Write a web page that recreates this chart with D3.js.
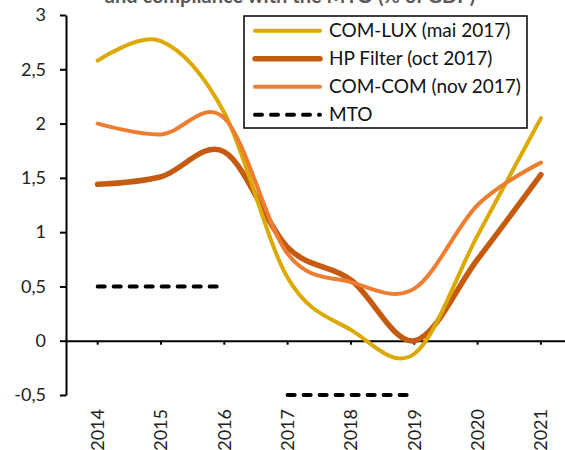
<!DOCTYPE html>
<html>
<head>
<meta charset="utf-8">
<script src="https://cdn.jsdelivr.net/npm/d3@7"></script>
<style>
  html, body { margin: 0; padding: 0; background: #fff; }
  svg { display: block; }
  text { font-family: Lato, "Open Sans", sans-serif; }
</style>
</head>
<body>
<svg id="chart" width="565" height="450"></svg>
<script>
// ---- data ----
const years = ["2014", "2015", "2016", "2017", "2018", "2019", "2020", "2021"];
const comLux = [2.58, 2.76, 2.10, 0.58, 0.10, -0.12, 0.97, 2.05];
const hpFilter = [1.44, 1.51, 1.74, 0.86, 0.56, 0.00, 0.75, 1.53];
const comCom = [2.00, 1.90, 2.05, 0.80, 0.54, 0.48, 1.25, 1.64];
const mto = [0.5, 0.5, 0.5, -0.5, -0.5, -0.5, null, null];
const yTicks = [-0.5, 0, 0.5, 1, 1.5, 2, 2.5, 3];
const seriesNames = ["COM-LUX (mai 2017)", "HP Filter (oct 2017)", "COM-COM (nov 2017)", "MTO"];
const titleText = "and compliance with the MTO (% of GDP)";

// ---- styles ----
const colors = { lux: "#DBA900", hp: "#C55A11", com: "#ED7D31", mto: "#000000" };
const fontSize = 17;

const svg = d3.select("#chart");

const x = d3.scaleBand().domain(years).range([66, 572.6]).padding(0);
const xc = d => x(d) + x.bandwidth() / 2;
const y = d3.scaleLinear().domain([-0.5, 3]).range([395, 15]);

const fmt = v => String(v).replace(".", ",");

// title (partially cut off at top, as in the reference)
svg.append("text")
  .attr("x", 290).attr("y", 3)
  .attr("text-anchor", "middle")
  .attr("font-weight", "bold")
  .attr("font-size", 20)
  .attr("fill", "#595959")
  .text(titleText);

// y axis
const yAxis = svg.append("g")
  .attr("transform", "translate(66,0)")
  .call(d3.axisLeft(y).tickValues(yTicks).tickFormat(fmt).tickSize(6).tickSizeOuter(0).tickPadding(14));
yAxis.select(".domain").attr("stroke", "#000").attr("stroke-width", 2);
yAxis.selectAll(".tick line").attr("stroke", "#000").attr("stroke-width", 2);
yAxis.selectAll(".tick text").attr("font-size", fontSize + 1).attr("fill", "#222").attr("font-family", "Lato, 'Open Sans', sans-serif");

// x axis at y=0
const xAxis = svg.append("g")
  .attr("transform", `translate(0,${y(0)})`)
  .call(d3.axisBottom(x).tickSize(4).tickSizeOuter(0).tickFormat(""));
xAxis.select(".domain").attr("stroke", "#000").attr("stroke-width", 2);
xAxis.selectAll(".tick line").attr("stroke", "#000").attr("stroke-width", 2);

// rotated year labels at the bottom
svg.append("g").selectAll("text")
  .data(years)
  .join("text")
  .attr("transform", d => `translate(${xc(d)},409) rotate(-90)`)
  .attr("text-anchor", "end")
  .attr("dy", "0.35em")
  .attr("font-size", fontSize + 1)
  .attr("fill", "#222")
  .text(d => d);

// lines
const line = d3.line()
  .defined(d => d.v !== null)
  .x(d => xc(d.year))
  .y(d => y(d.v))
  .curve(d3.curveCardinal.tension(0));

const toPts = arr => arr.map((v, i) => ({ year: years[i], v }));

const seriesDraw = [
  { data: hpFilter, color: colors.hp, w: 5.5 },
  { data: comLux, color: colors.lux, w: 4 },
  { data: comCom, color: colors.com, w: 4 }
];
seriesDraw.forEach(s => {
  svg.append("path")
    .attr("d", line(toPts(s.data)))
    .attr("fill", "none")
    .attr("stroke", s.color)
    .attr("stroke-width", s.w)
    .attr("stroke-linecap", "round")
    .attr("stroke-linejoin", "round");
});

// MTO: segments of constant value
const segs = [];
mto.forEach((v, i) => {
  if (v === null) return;
  const last = segs[segs.length - 1];
  if (last && last.v === v && last.end === i - 1) { last.pts.push({ year: years[i], v }); last.end = i; }
  else segs.push({ v, end: i, pts: [{ year: years[i], v }] });
});
const straight = d3.line().x(d => xc(d.year)).y(d => y(d.v));
segs.forEach(s => {
  svg.append("path")
    .attr("d", straight(s.pts))
    .attr("fill", "none")
    .attr("stroke", colors.mto)
    .attr("stroke-width", 4)
    .attr("stroke-linecap", "round")
    .attr("stroke-dasharray", "7,9");
});

// legend
const lg = svg.append("g");
lg.append("rect")
  .attr("x", 244).attr("y", 16).attr("width", 283).attr("height", 112)
  .attr("fill", "#fff").attr("stroke", "#000").attr("stroke-width", 1.5);
const legendItems = [
  { name: seriesNames[0], color: colors.lux, w: 4, dash: null },
  { name: seriesNames[1], color: colors.hp, w: 5.5, dash: null },
  { name: seriesNames[2], color: colors.com, w: 4, dash: null },
  { name: seriesNames[3], color: colors.mto, w: 4, dash: "7,9" }
];
legendItems.forEach((it, i) => {
  const yy = 30.7 + i * 28;
  lg.append("line")
    .attr("x1", 255).attr("x2", 320).attr("y1", yy).attr("y2", yy)
    .attr("stroke", it.color).attr("stroke-width", it.w)
    .attr("stroke-linecap", "round")
    .attr("stroke-dasharray", it.dash);
  lg.append("text")
    .attr("x", 329).attr("y", yy).attr("dy", "0.35em")
    .attr("font-size", 19)
    .attr("fill", "#111")
    .text(it.name);
});
</script>
</body>
</html>
